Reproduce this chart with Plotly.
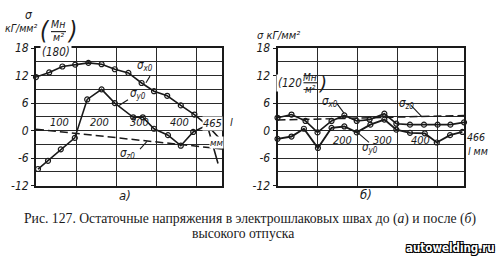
import plotly.graph_objects as go

# ---------------- data ----------------
# panel a) before tempering
a_sx_l = [0, 33, 66, 98, 131, 164, 197, 231, 264, 295, 328, 362, 396, 428, 466]
a_sx_v = [11.7, 12.7, 14.0, 14.4, 14.8, 14.5, 13.4, 12.6, 10.4, 8.6, 7.6, 5.5, 3.5, 1.2, -2.4]
a_sy_l = [5, 30, 62, 97, 128, 164, 197, 243, 267, 295, 330, 362, 393, 428, 455]
a_sy_v = [-8.4, -6.6, -4.1, -1.6, 6.8, 9.0, 6.0, 2.9, 2.9, 0.4, -1.0, -3.3, -0.3, 1.2, -7.2]
a_sy_mark = [True, True, True, True, True, True, True, True, True, True, True, True, True, True, False]
a_sz_l = [0, 100, 200, 277, 368, 465]
a_sz_v = [0.3, -0.6, -1.5, -2.3, -3.1, -4.0]

# panel б) after tempering
b_sx_l = [0, 35, 70, 100, 135, 167, 198, 230, 267, 297, 331, 366, 400, 432, 466]
b_sx_v = [2.8, 3.5, 2.1, -0.4, 2.1, 3.3, 2.1, 2.4, 3.7, 1.5, 1.3, 1.3, 1.3, 1.3, 1.8]
b_sy_l = [0, 35, 66, 101, 135, 167, 198, 232, 267, 297, 331, 368, 398, 431, 462]
b_sy_v = [-1.8, -1.3, 0.4, -3.8, 0.6, 0.9, -0.4, 1.3, 2.4, 0.2, -0.5, -0.6, -2.6, -1.0, -0.3]
b_sz_l = [0, 466]
b_sz_v = [2.3, 3.3]

y_ticks = [-12, -6, 0, 6, 12, 18]
y_ticktext = ["-12", "-6", "0", "6", "12", "18"]
y_minor_step = 3
x_grid = [100, 200, 300, 400]
a_xlabels = ["100", "200", "300", "400"]
b_xlabels = ["200", "300", "400"]
b_xlabel_pos = [190, 290, 385]
a_xmax, b_xmax = 465, 466

W, H = 500, 264
INK = "#1a1a1a"


def P(x, y):
    return x / W, 1 - y / H


fig = go.Figure()


def curve(l, v, xa, ya, dash="solid", marker=True, width=1.6, symbols_on=None):
    mode = "lines+markers" if marker else "lines"
    mk = dict(symbol="circle-open", size=5, color=INK, line=dict(width=1.2, color=INK))
    if symbols_on is not None:
        mk["opacity"] = [1 if s else 0 for s in symbols_on]
    fig.add_trace(go.Scatter(x=l, y=v, xaxis=xa, yaxis=ya, mode=mode,
                             line=dict(color=INK, width=width, dash=dash),
                             marker=mk, hoverinfo="skip", showlegend=False,
                             cliponaxis=False))


curve(a_sz_l, a_sz_v, "x", "y", dash="8px,4px", marker=False, width=1.5)
curve(a_sx_l, a_sx_v, "x", "y")
curve(a_sy_l, a_sy_v, "x", "y", symbols_on=a_sy_mark)
curve(b_sz_l, b_sz_v, "x2", "y2", dash="8px,4px", marker=False, width=1.5)
curve(b_sx_l, b_sx_v, "x2", "y2")
curve(b_sy_l, b_sy_v, "x2", "y2", width=1.9)

tickfont = dict(family="DejaVu Sans Condensed", size=12, color=INK, style="italic")
common_x = dict(showgrid=True, gridcolor="#2a2a2a", gridwidth=1.3, tickvals=x_grid,
                showticklabels=False, zeroline=False, showline=True, mirror=True,
                linecolor=INK, linewidth=1.6, ticks="", fixedrange=True)
common_y = dict(showgrid=True, gridcolor="#2a2a2a", gridwidth=1.2, tickvals=y_ticks,
                ticktext=y_ticktext, range=[-12, 18], zeroline=False, showline=True,
                mirror=True, linecolor=INK, linewidth=1.8, ticks="outside", ticklen=3,
                tickcolor=INK, tickfont=tickfont, fixedrange=True,
                minor=dict(tick0=0, dtick=y_minor_step, showgrid=True, gridcolor="#2a2a2a",
                           gridwidth=1.2, ticks=""))

fig.update_layout(
    width=W, height=H, margin=dict(l=0, r=0, t=0, b=0),
    paper_bgcolor="white", plot_bgcolor="white",
    xaxis=dict(domain=[36 / W, 222 / W], range=[0, a_xmax], anchor="y", **common_x),
    yaxis=dict(domain=[1 - 188.5 / H, 1 - 43.5 / H], anchor="x", **common_y),
    xaxis2=dict(domain=[277.5 / W, 464 / W], range=[0, b_xmax], anchor="y2", **common_x),
    yaxis2=dict(domain=[1 - 188.5 / H, 1 - 43.5 / H], anchor="x2", **common_y),
)

ann = []
itf = lambda s=11.5: dict(family="DejaVu Sans Condensed", size=s, color=INK, style="italic")

# x tick labels inside plot (panel a)
for t, lab in zip(x_grid, a_xlabels):
    ann.append(dict(x=t - 12, y=0, xref="x", yref="y", text=lab, showarrow=False,
                    xanchor="right", yanchor="bottom", yshift=0, font=itf(11)))
ann.append(dict(x=a_xmax, y=0, xref="x", yref="y", text="465", showarrow=False,
                xanchor="center", yanchor="bottom", xshift=-10, font=itf(11),
                bgcolor="white", borderpad=0))
ann.append(dict(x=a_xmax, y=0, xref="x", yref="y", text="l", showarrow=False,
                xanchor="left", yanchor="bottom", xshift=6, font=itf(11)))
ann.append(dict(x=a_xmax, y=0, xref="x", yref="y", text="мм", showarrow=False,
                xanchor="center", yanchor="top", xshift=-6, yshift=-5, font=itf(9.5),
                bgcolor="white", borderpad=0))
# panel б
for t, lab in zip(b_xlabel_pos, b_xlabels):
    ann.append(dict(x=t, y=0, xref="x2", yref="y2", text=lab, showarrow=False,
                    xanchor="right", yanchor="top", yshift=-1, font=itf(11)))
ann.append(dict(x=b_xmax, y=0, xref="x2", yref="y2", text="466", showarrow=False,
                xanchor="left", yanchor="middle", xshift=1, yshift=-6, font=itf(10.5)))
ann.append(dict(x=b_xmax, y=0, xref="x2", yref="y2", text="l мм", showarrow=False,
                xanchor="left", yanchor="middle", xshift=2, yshift=-20, font=itf(10.5)))

# curve labels
def lbl(x, y, xr, yr, text, size=11.5, bg=False):
    d = dict(x=x, y=y, xref=xr, yref=yr, text=text, showarrow=False, font=itf(size))
    if bg:
        d.update(bgcolor="white", borderpad=0)
    ann.append(d)

lbl(272, 14.3, "x", "y", "σ<sub>x0</sub>")
lbl(255, 8.0, "x", "y", "σ<sub>y0</sub>")
lbl(228, -4.9, "x", "y", "σ<sub>z0</sub>")
lbl(130, 6.3, "x2", "y2", "σ<sub>x0</sub>")
lbl(323, 6.0, "x2", "y2", "σ<sub>z0</sub>")
lbl(230, -3.7, "x2", "y2", "σ<sub>y0</sub>")

# axis titles
def pa(x, y, text, size=11.5, xanchor="center", bg=False, family="DejaVu Sans Condensed", style="italic"):
    px, py = P(x, y)
    d = dict(x=px, y=py, xref="paper", yref="paper", text=text, showarrow=False,
             xanchor=xanchor, yanchor="middle",
             font=dict(family=family, size=size, color=INK, style=style))
    if bg:
        d.update(bgcolor="white", borderpad=1)
    ann.append(d)

pa(29, 8, "σ", 12)
pa(21, 22, "кГ/мм²", 10.5)
pa(45, 25, "(", 24)
pa(72, 25, ")", 24)
pa(58, 18, "Мн", 10.5)
pa(58, 32, "м²", 10.5)
pa(56, 48, "(180)", 11.5, bg=True)

pa(278, 30, "σ кГ/мм²", 11)
pa(290, 80, "(120", 11.5, bg=True)
pa(310, 74, "Мн", 10)
pa(310, 87, "м²", 10)
pa(322, 80, ")", 20)

pa(125, 199, "а)", 13)
pa(366, 198, "б)", 13)

pa(250, 224, "Рис. 127. Остаточные напряжения в электрошлаковых швах до (<i>а</i>) и после (<i>б</i>)",
   13.7, family="Liberation Serif", style="normal")
pa(243, 239, "высокого отпуска", 13.7, family="Liberation Serif", style="normal")

wx, wy = P(497, 255)
ann.append(dict(x=wx, y=wy, xref="paper", yref="paper", text="<b>autowelding.ru</b>",
                showarrow=False, xanchor="right", yanchor="middle",
                font=dict(family="DejaVu Sans Condensed", size=11.5, color="white",
                          shadow="1px 1px 0 #000, -1px -1px 0 #000, 1px -1px 0 #000, -1px 1px 0 #000")))

fig.update_layout(annotations=ann)

shapes = []
def seg(x0, y0, x1, y1, w=1.1):
    a0, b0 = P(x0, y0)
    a1, b1 = P(x1, y1)
    shapes.append(dict(type="line", xref="paper", yref="paper", x0=a0, y0=b0, x1=a1, y1=b1,
                       line=dict(color=INK, width=w)))

seg(51, 26, 66, 26)      # fraction bar a
seg(303, 80, 317, 80)    # fraction bar б
# leader lines
seg(150, 73, 146, 80)
seg(128, 98, 119, 104)
seg(140, 150, 147, 142)
seg(337, 102, 344, 112)
seg(411, 104, 422, 116)
seg(369, 143, 358, 133)
fig.update_layout(shapes=shapes)

fig.write_html("out.html")
